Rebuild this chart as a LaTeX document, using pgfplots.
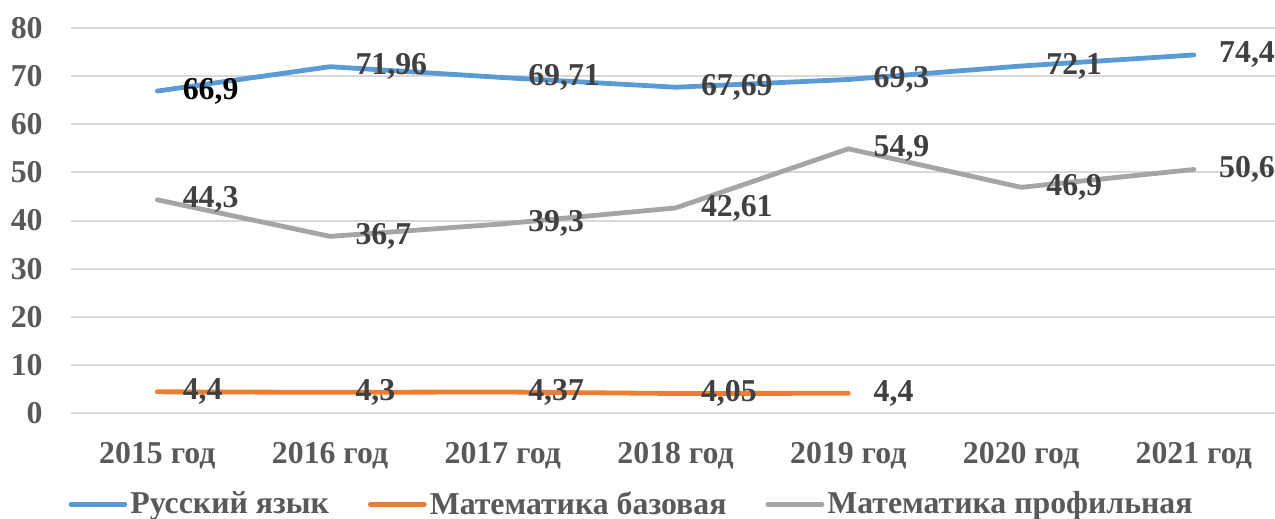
\documentclass[border=0pt]{standalone}
\usepackage{pgfplots}
\pgfplotsset{compat=1.18}
\usepackage{fontspec}
\setmainfont{Liberation Serif}
\definecolor{cblue}{HTML}{5B9BD5}
\definecolor{corange}{HTML}{ED7D31}
\definecolor{cgray}{HTML}{A5A5A5}
\definecolor{gridc}{HTML}{D9D9D9}
\definecolor{labc}{HTML}{404040}
\definecolor{tickc}{HTML}{595959}
\newcommand{\f}{\fontsize{15.9}{18}\selectfont\bfseries}
\begin{document}
\begin{tikzpicture}
\begin{axis}[name=ax, scale only axis, width=602pt, height=192.5pt,
 xmin=-0.5, xmax=6.47, ymin=0, ymax=80,
 axis line style={draw=none},
 xtick={0,...,6},
 xticklabels={2015 год,2016 год,2017 год,2018 год,2019 год,2020 год,2021 год},
 ytick={0,10,...,80},
 major tick length=0pt,
 ymajorgrids, grid style={gridc, line width=1pt},
 /pgf/number format/assume math mode=true,
 tick label style={font=\f, text=tickc},
 yticklabel style={anchor=east, inner sep=0pt, xshift=-14pt},
 xticklabel style={anchor=north, inner sep=0pt, yshift=-14.5pt},
 clip=false,
 no markers,
 every axis plot/.append style={line width=2.4pt, line cap=round, line join=round},
 nodes near coords, point meta=explicit symbolic,
 every node near coord/.style={anchor=west, inner sep=0pt, xshift=11.5pt, font=\f, text=labc},
 legend columns=3,
 legend style={draw=none, at={(0.466,-0.237)}, anchor=center, font=\f, text=tickc,
   nodes={inner xsep=1.5pt},
   /tikz/every even column/.append style={column sep=18pt}},
 legend image code/.code={\draw[#1, line cap=round] (0pt,0pt) -- (27pt,0pt);},
]
\addplot[cblue] coordinates {(0,66.9)[\textcolor{black}{66,9}] (1,71.96)[71,96] (2,69.71)[69,71] (3,67.69)[67,69] (4,69.3)[69,3] (5,72.1)[72,1] (6,74.4)[74,4]};
\addlegendentry{Русский язык}
\addplot[corange] coordinates {(0,4.4)[4,4] (1,4.3)[4,3] (2,4.37)[4,37] (3,4.05)[4,05] (4,4.1)[4,4]};
\addlegendentry{Математика базовая}
\addplot[cgray] coordinates {(0,44.3)[44,3] (1,36.7)[36,7] (2,39.3)[39,3] (3,42.61)[42,61] (4,54.9)[54,9] (5,46.9)[46,9] (6,50.6)[50,6]};
\addlegendentry{Математика профильная}
\end{axis}
\pgfresetboundingbox
\path ([shift={(-35.5pt,-52.5pt)}]ax.south west) rectangle ([shift={(0pt,14pt)}]ax.north east);
\end{tikzpicture}
\end{document}
